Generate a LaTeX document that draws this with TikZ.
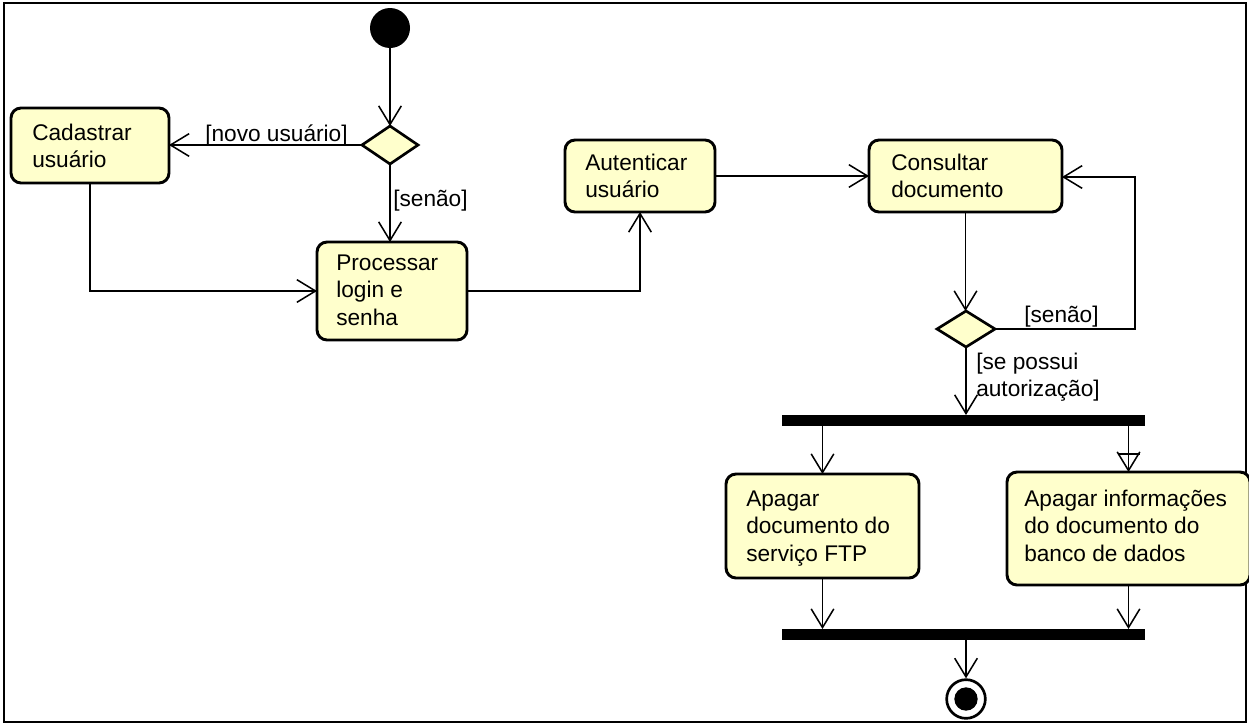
\documentclass[tikz,border=0pt]{standalone}
\usepackage{fontspec}
\setmainfont{Liberation Sans}
\usetikzlibrary{arrows.meta,shapes.geometric,fit,calc}
\definecolor{actfill}{RGB}{255,255,204}

\begin{document}
\begin{tikzpicture}[x=0.75pt,y=-0.75pt,
  act/.style={draw, line width=2.2pt, rounded corners=7.5pt, fill=actfill, inner sep=0pt, outer sep=0pt},
  dec/.style={diamond, draw, line width=2pt, fill=actfill, inner sep=0pt, outer sep=0pt},
  bar/.style={fill=black, inner sep=0pt, outer sep=0pt},
  txt/.style={inner sep=0pt, anchor=base west, font=\fontsize{17}{20.8}\selectfont},
  flow/.style={draw, line width=1.15pt, -{Straight Barb[length=14pt,width=17pt,line width=1.15pt]}},
  plain/.style={draw, line width=1.15pt}
]
\useasboundingbox (0,0) rectangle (1249,725);
\draw[line width=1.6pt] (4,3) rectangle (1246,722);

% start node and first decision
\node[circle, fill=black, minimum size=30pt, inner sep=0pt] (ini) at (390,28) {};
\node[dec, minimum width=42pt, minimum height=28.5pt] (d1) at (390,145) {};

% activities
\node[act, fit={(11,108) (169,183)}] (cad) {};
\node[txt] (cadT) at (32,140) {\begin{tabular}[t]{@{}l@{}}Cadastrar\\usuário\end{tabular}};

\node[act, fit={(317,242) (467,340)}] (proc) {};
\node[txt] (procT) at (336,270) {\begin{tabular}[t]{@{}l@{}}Processar\\login e\\senha\end{tabular}};

\node[act, fit={(565,140) (715,212)}] (aut) {};
\node[txt] (autT) at (585,170) {\begin{tabular}[t]{@{}l@{}}Autenticar\\usuário\end{tabular}};

\node[act, fit={(869,140) (1062,212)}] (cons) {};
\node[txt] (consT) at (891,170) {\begin{tabular}[t]{@{}l@{}}Consultar\\documento\end{tabular}};

\node[dec, minimum width=43.5pt, minimum height=27pt] (d2) at (966,329) {};

% fork / join bars
\node[bar, fit={(782,415) (1145,426)}] (fork) {};
\node[bar, fit={(782,629) (1145,640)}] (join) {};

\node[act, fit={(726,474) (919,578)}] (lbox) {};
\node[txt] (lboxT) at (746,506) {\begin{tabular}[t]{@{}l@{}}Apagar\\documento do\\serviço FTP\end{tabular}};

\node[act, fit={(1007,472) (1250,585)}] (rbox) {};
\node[txt] (rboxT) at (1024,506) {\begin{tabular}[t]{@{}l@{}}Apagar informações\\do documento do\\banco de dados\end{tabular}};

% final node
\node[circle, draw, line width=2pt, fill=white, minimum size=29pt, inner sep=0pt] (fin) at (966,699) {};
\node[circle, fill=black, minimum size=17.5pt, inner sep=0pt] (finIn) at (fin.center) {};

% guard labels
\node[txt] (gNovo) at (205,141) {[novo usuário]};
\node[txt] (gSenao1) at (393,206) {[senão]};
\node[txt] (gSenao2) at (1024,322) {[senão]};
\node[txt] (gAut) at (976,369) {\begin{tabular}[t]{@{}l@{}}[se possui\\autorização]\end{tabular}};

% flows
\coordinate (loop) at (1135,177);
\path[flow] (ini) -- (d1.north);
\path[flow] (d1.west) -- (d1.west -| cad.east);
\path[flow] (d1.south) -- (d1.south |- proc.north);
\path[flow] (cad.south) |- (proc.west);
\path[flow] (proc.east) -| (aut.south);
\path[flow] (aut.east) -- (cons.west);
\path[flow] (cons.south) -- (cons.south |- d2.north);
\path[flow] (d2.east) -| (loop) -- (cons.east |- loop);
\path[flow] (d2.south) -- (d2.south |- fork.north);
\path[flow] (lbox.north |- fork.south) -- (lbox.north);
\path[flow] (rbox.north |- fork.south) -- (rbox.north);
\path[plain] ($(rbox.north)+(-11,-18)$) -- ++(22,0);
\path[flow] (lbox.south) -- (lbox.south |- join.north);
\path[flow] (rbox.south) -- (rbox.south |- join.north);
\path[flow] (fin.north |- join.south) -- (fin.north);
\end{tikzpicture}
\end{document}
